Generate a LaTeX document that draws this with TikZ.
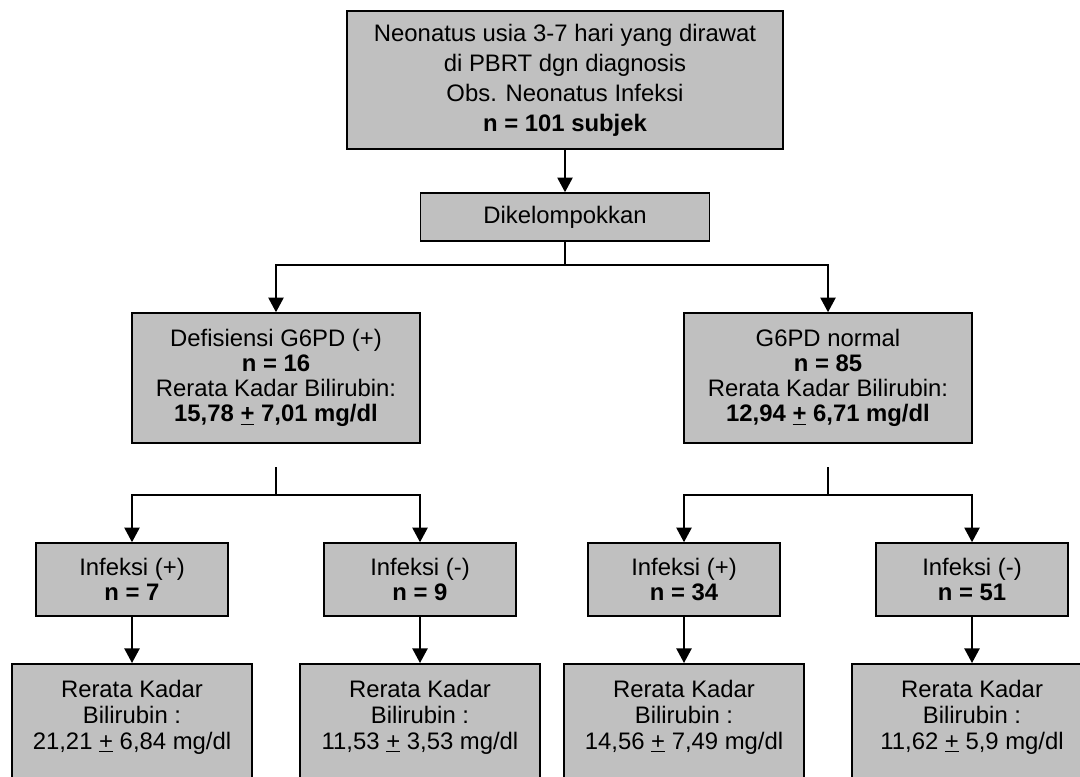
\documentclass[tikz,border=0pt]{standalone}
\usepackage{fontspec}
\setmainfont{Liberation Sans}
\usetikzlibrary{arrows.meta}
\definecolor{boxgray}{HTML}{C0C0C0}
\begin{document}
\begin{tikzpicture}[x=0.75pt,y=-0.75pt,
  box/.style={draw=black, line width=1.2pt, fill=boxgray, align=center, inner sep=0pt,
    font=\fontsize{17.9}{18.9}\selectfont},
  txt/.style={align=center, inner sep=0pt, font=\fontsize{17.9}{19.5}\selectfont},
  conn/.style={line width=1.2pt},
  arr/.style={line width=1.2pt, -{Triangle[length=11pt,width=11.5pt]}}
]
\useasboundingbox (0,0) rectangle (1080,777);
\clip (0,0) rectangle (1080,777);

% top
\node[box, minimum width=327pt, minimum height=103.5pt,
  font=\fontsize{17.9}{22.5}\selectfont] (top) at (565,80)
  {Neonatus usia 3-7 hari yang dirawat\\di PBRT dgn diagnosis\\Obs. Neonatus Infeksi\\\textbf{n = 101 subjek}};
\node[box, minimum width=216.75pt, minimum height=36pt] (dik) at (565,217) {Dikelompokkan};

% level 2
\node[box, minimum width=216pt, minimum height=97.5pt] (g1) at (276,378)
  {Defisiensi G6PD (+)\\\textbf{n = 16}\\Rerata Kadar Bilirubin:\\\textbf{15,78 \underline{+} 7,01 mg/dl}};
\node[box, minimum width=216pt, minimum height=97.5pt] (g2) at (828,378)
  {G6PD normal\\\textbf{n = 85}\\Rerata Kadar Bilirubin:\\\textbf{12,94 \underline{+} 6,71 mg/dl}};

% level 3
\node[box, minimum width=144pt, minimum height=54.75pt] (i1) at (132,579.5) {Infeksi (+)\\\textbf{n = 7}};
\node[box, minimum width=144pt, minimum height=54.75pt] (i2) at (420,579.5) {Infeksi (-)\\\textbf{n = 9}};
\node[box, minimum width=144pt, minimum height=54.75pt] (i3) at (684,579.5) {Infeksi (+)\\\textbf{n = 34}};
\node[box, minimum width=144pt, minimum height=54.75pt] (i4) at (972,579.5) {Infeksi (-)\\\textbf{n = 51}};

% level 4
\node[box, anchor=north, minimum width=180pt, minimum height=105pt] (b1) at (132,663) {};
\node[box, anchor=north, minimum width=180pt, minimum height=105pt] (b2) at (420,663) {};
\node[box, anchor=north, minimum width=180pt, minimum height=105pt] (b3) at (684,663) {};
\node[box, anchor=north, minimum width=180pt, minimum height=105pt] (b4) at (972,663) {};
\node[txt, anchor=north] (b1t) at ([yshift=-12.5pt]b1.north) {Rerata Kadar\\Bilirubin :\\21,21 \underline{+} 6,84 mg/dl};
\node[txt, anchor=north] (b2t) at ([yshift=-12.5pt]b2.north) {Rerata Kadar\\Bilirubin :\\11,53 \underline{+} 3,53 mg/dl};
\node[txt, anchor=north] (b3t) at ([yshift=-12.5pt]b3.north) {Rerata Kadar\\Bilirubin :\\14,56 \underline{+} 7,49 mg/dl};
\node[txt, anchor=north] (b4t) at ([yshift=-12.5pt]b4.north) {Rerata Kadar\\Bilirubin :\\11,62 \underline{+} 5,9 mg/dl};

% connectors
\coordinate (s0) at (565,265);
\coordinate (g1a) at (276,467);
\coordinate (g1b) at (276,495);
\coordinate (g2a) at (828,467);
\coordinate (g2b) at (828,495);

\draw[arr] (top.south) -- (dik.north);
\draw[conn] (dik.south) -- (s0);
\draw[arr] (s0) -| (g1.north);
\draw[arr] (s0) -| (g2.north);

\draw[conn] (g1a) -- (g1b);
\draw[arr] (g1b) -| (i1.north);
\draw[arr] (g1b) -| (i2.north);
\draw[conn] (g2a) -- (g2b);
\draw[arr] (g2b) -| (i3.north);
\draw[arr] (g2b) -| (i4.north);

\draw[arr] (i1.south) -- (b1.north);
\draw[arr] (i2.south) -- (b2.north);
\draw[arr] (i3.south) -- (b3.north);
\draw[arr] (i4.south) -- (b4.north);
\end{tikzpicture}
\end{document}
